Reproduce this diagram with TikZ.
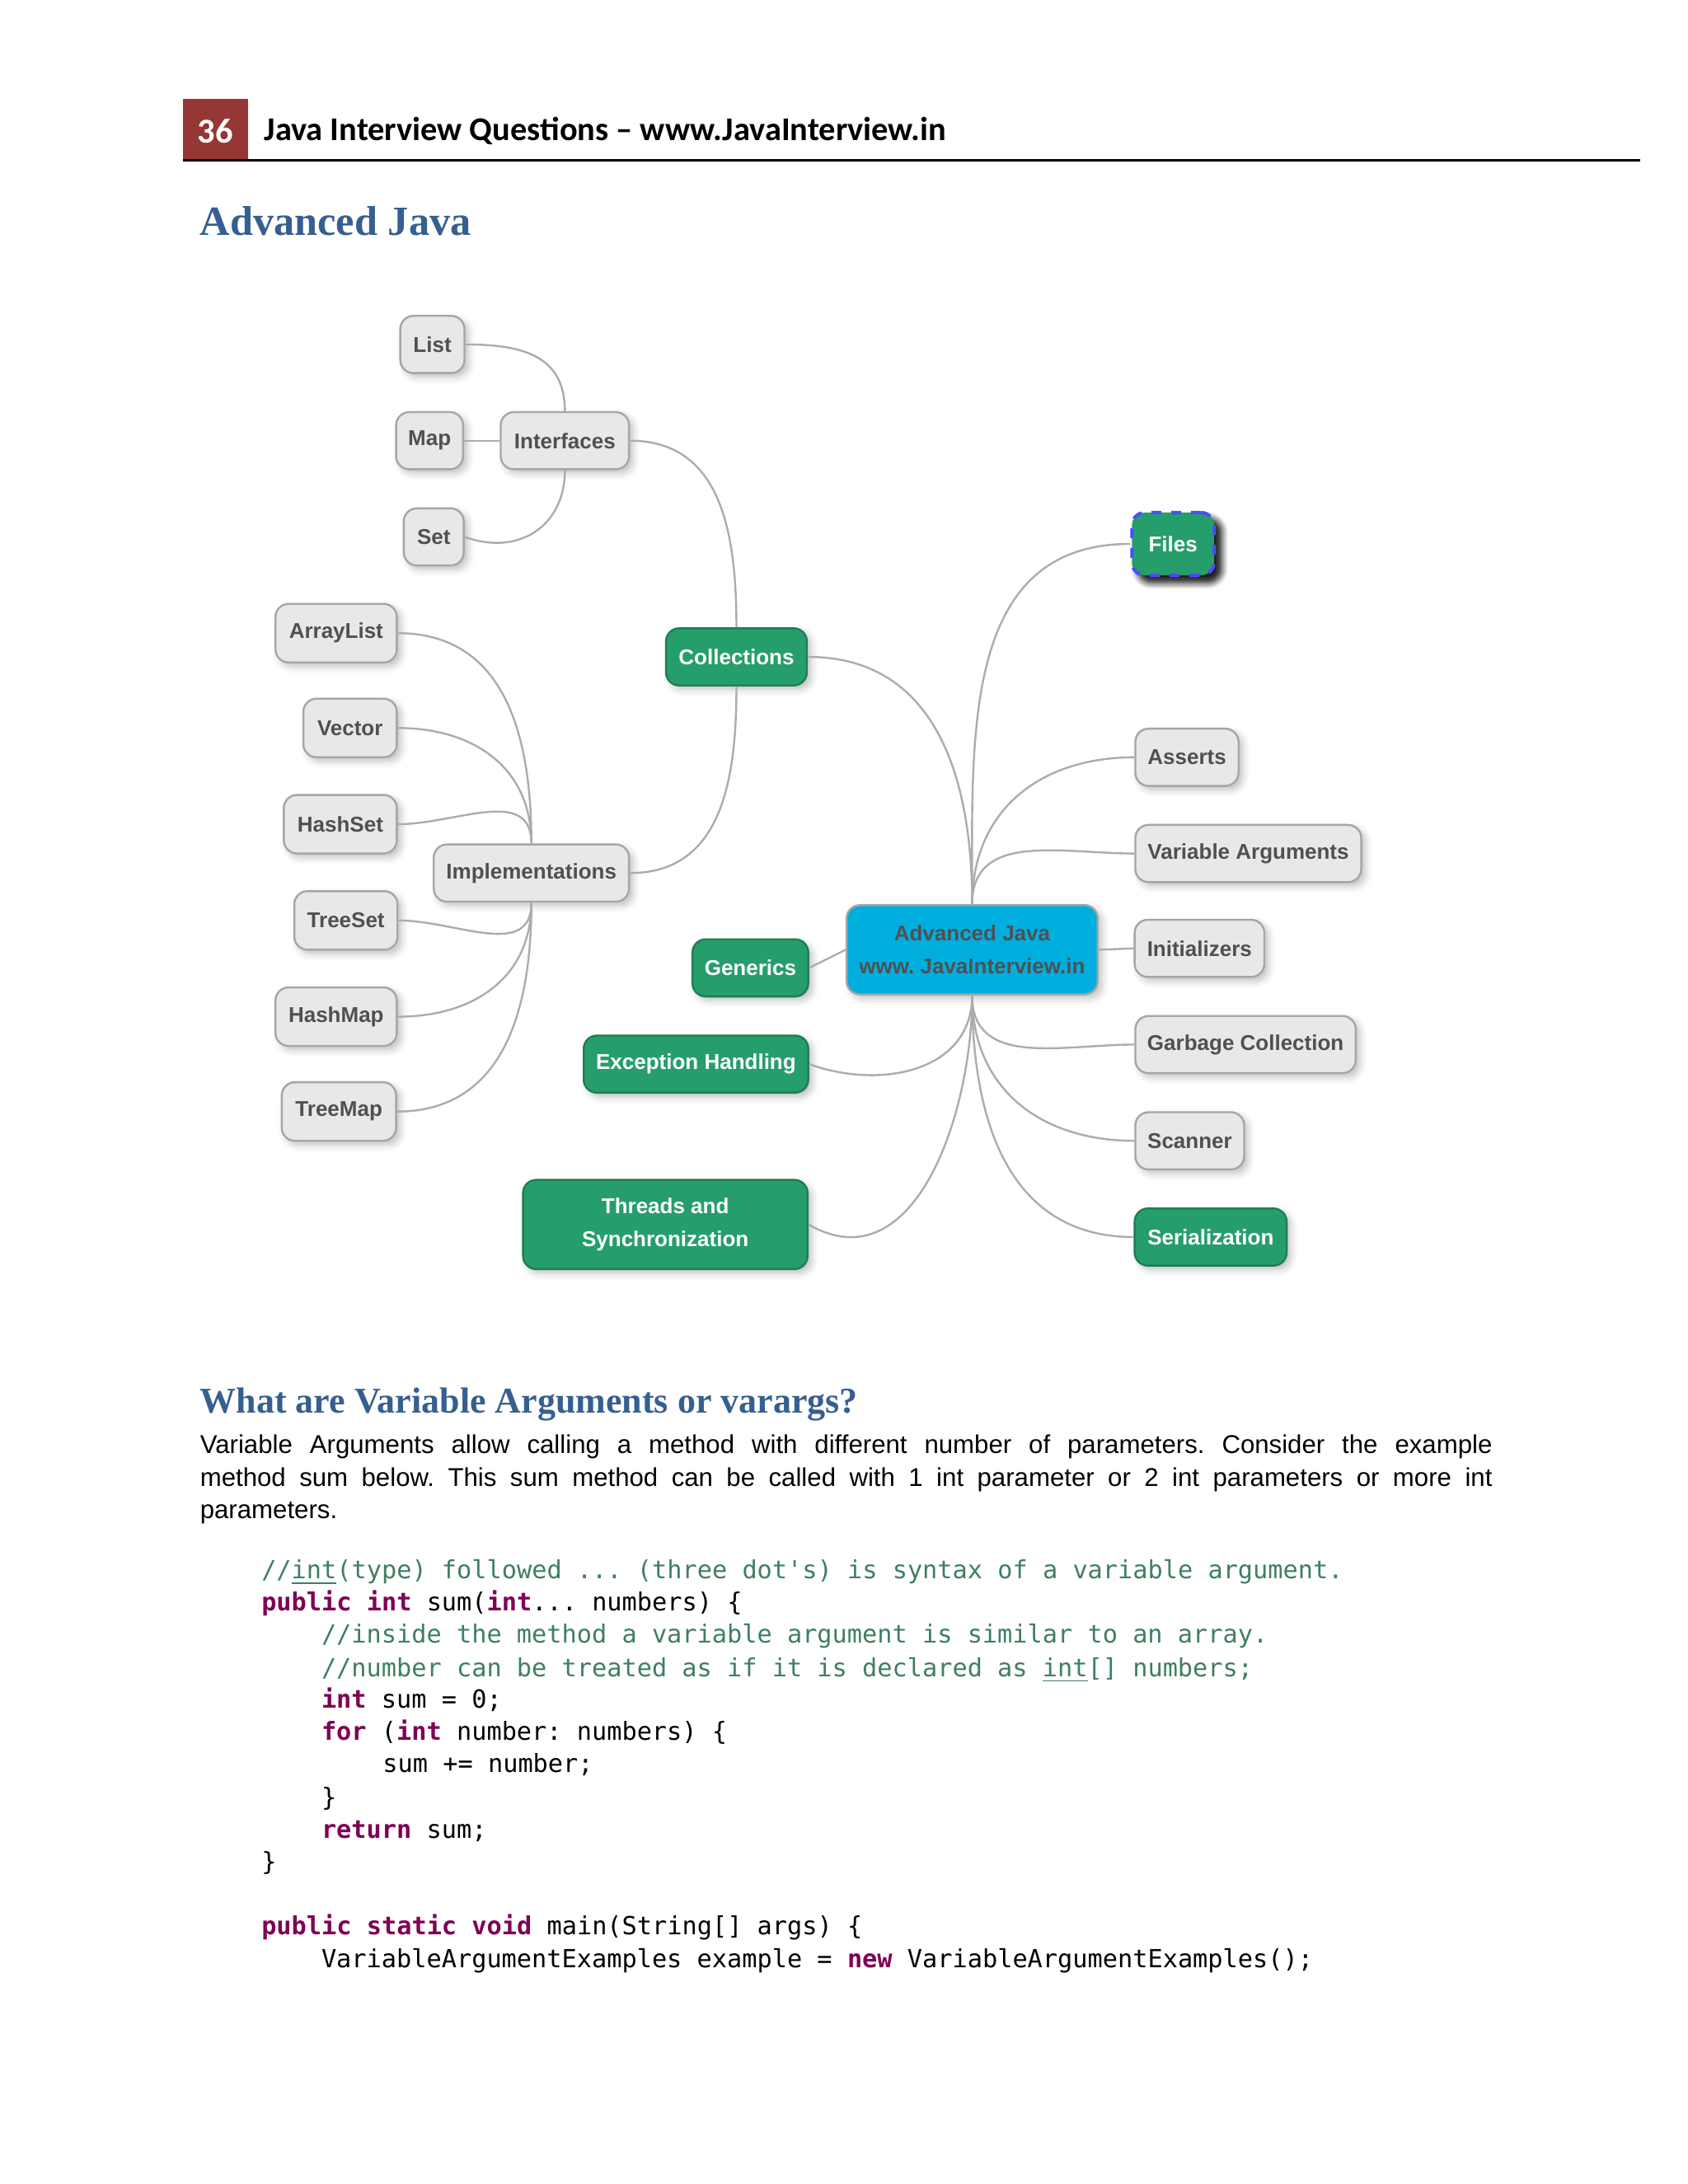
\documentclass[tikz,border=0pt]{standalone}
\usepackage{fontspec}
\setmainfont{Liberation Sans}
\newfontfamily\hdfont{Carlito}
\newfontfamily\serfont{Liberation Serif}
\newfontfamily\codefont{DejaVu Sans Mono}
\usetikzlibrary{shadows.blur}
\definecolor{gfill}{RGB}{38,158,108}
\definecolor{gtext}{RGB}{80,80,80}
\definecolor{cfill}{RGB}{0,174,222}
\definecolor{hblue}{RGB}{54,95,145}
\definecolor{hred}{RGB}{149,55,53}
\definecolor{ccom}{RGB}{63,127,95}
\definecolor{ckey}{RGB}{127,0,85}
\frenchspacing
\tikzset{
  base/.style={rounded corners=4pt, draw=gray!70, line width=0.6pt, inner sep=1pt,
    font=\fontsize{6.5}{8}\selectfont\bfseries, blur shadow={shadow xshift=1.2pt,shadow yshift=-1.2pt,shadow blur steps=4,shadow opacity=25}},
  gnode/.style={base, fill=gray!18, text=gtext},
  grn/.style={base, fill=gfill, text=white, draw=gfill!80!black},
  link/.style={draw=gray!65, line width=0.6pt},
  cl/.style={anchor=base west, inner sep=0pt, font=\codefont\fontsize{7.57}{9}\selectfont},
}
\newcommand{\kw}[1]{\textcolor{ckey}{\bfseries #1}}
\newcommand{\cm}[1]{\textcolor{ccom}{#1}}
\begin{document}
\begin{tikzpicture}[x=0.4231pt,y=-0.4231pt]
\useasboundingbox (0,0) rectangle (1210,1566);
% header
\fill[hred] (131,71) rectangle (178,115);
\node[text=white,font=\hdfont\bfseries\fontsize{10.6}{13}\selectfont] (pg) at (154.5,94) {36};
\node[anchor=base west,inner sep=0pt,font=\hdfont\bfseries\fontsize{10.1}{13}\selectfont] (ht) at (189,101) {Java Interview Questions – www.JavaInterview.in};
\draw[line width=0.8pt] (131,115) -- (1176,115);
\node[anchor=base west,inner sep=0pt,text=hblue,font=\serfont\bfseries\fontsize{12.6}{15}\selectfont] (h1) at (143,169) {Advanced Java};
% nodes
\newcommand{\nd}[6]{\node[#1, minimum width=#4*0.4231pt, minimum height=#5*0.4231pt] (#6) at (#2,#3)}
\nd{gnode}{310}{247}{46}{41}{list} {List};
\nd{gnode}{308}{316}{48}{41}{map} {Map};
\nd{gnode}{405}{316}{92}{41}{intf} {Interfaces};
\nd{gnode}{311}{385}{43}{41}{set} {Set};
\nd{grn}{528}{471}{101}{41}{coll} {Collections};
\nd{gnode}{241}{454}{87}{42}{al} {ArrayList};
\nd{gnode}{251}{522}{67}{42}{vec} {Vector};
\nd{gnode}{244}{591}{81}{42}{hs} {HashSet};
\nd{gnode}{381}{626}{140}{41}{impl} {Implementations};
\nd{gnode}{248}{660}{74}{42}{ts} {TreeSet};
\nd{gnode}{241}{729}{87}{42}{hm} {HashMap};
\nd{gnode}{243}{797}{82}{42}{tm} {TreeMap};
\nd{grn}{538}{694}{83}{41}{gen} {Generics};
\node[base, fill=cfill, text=gtext, draw=gray!70, align=center, minimum width=180*0.4231pt, minimum height=64*0.4231pt, font=\fontsize{6.5}{10}\selectfont\bfseries] (adv) at (697,681) {Advanced Java\\www. JavaInterview.in};
\nd{grn}{499}{763}{161}{41}{exc} {Exception Handling};
\node[grn, align=center, minimum width=204*0.4231pt, minimum height=64*0.4231pt, font=\fontsize{6.5}{10}\selectfont\bfseries] (thr) at (477,878) {Threads and\\Synchronization};
\node[grn, draw=blue!70, dashed, line width=1pt, minimum width=59*0.4231pt, minimum height=45*0.4231pt, blur shadow={shadow xshift=2pt,shadow yshift=-2pt,shadow opacity=70}] (files) at (841,390) {Files};
\nd{gnode}{851}{543}{74}{41}{ass} {Asserts};
\nd{gnode}{895}{612}{162}{41}{va} {Variable Arguments};
\nd{gnode}{860}{680}{93}{41}{ini} {Initializers};
\nd{gnode}{893}{749}{158}{41}{gc} {Garbage Collection};
\nd{gnode}{853}{818}{78}{41}{sc} {Scanner};
\nd{grn}{868}{887}{109}{41}{ser} {Serialization};
% links
\draw[link] (list.east) to[out=0,in=90,looseness=1.2] (intf.north);
\draw[link] (set.east) to[out=-20,in=-90,looseness=1.2] (intf.south);
\draw[link] (map.east) -- (intf.west);
\draw[link] (intf.east) to[out=0,in=90,looseness=1.1] (coll.north);
\draw[link] (impl.east) to[out=0,in=-90,looseness=1.1] (coll.south);
\draw[link] (al.east) to[out=0,in=90,looseness=1.1] (impl.north);
\draw[link] (vec.east) to[out=0,in=90,looseness=1.1] (impl.north);
\draw[link] (hs.east) to[out=0,in=90,looseness=1.1] (impl.north);
\draw[link] (ts.east) to[out=0,in=-90,looseness=1.1] (impl.south);
\draw[link] (hm.east) to[out=0,in=-90,looseness=1.1] (impl.south);
\draw[link] (tm.east) to[out=0,in=-90,looseness=1.1] (impl.south);
\draw[link] (coll.east) to[out=0,in=90,looseness=1.1] (adv.north);
\draw[link] (gen.east) -- (adv.west);
\draw[link] (exc.east) to[out=-20,in=-90,looseness=1.1] (adv.south);
\draw[link] (thr.east) to[out=-30,in=-90,looseness=1.1] (adv.south);
\draw[link] (files.west) to[out=180,in=90,looseness=1.1] (adv.north);
\draw[link] (ass.west) to[out=180,in=90,looseness=1.1] (adv.north);
\draw[link] (va.west) to[out=180,in=90,looseness=1.1] (adv.north);
\draw[link] (ini.west) -- (adv.east);
\draw[link] (gc.west) to[out=180,in=-90,looseness=1.1] (adv.south);
\draw[link] (sc.west) to[out=180,in=-90,looseness=1.1] (adv.south);
\draw[link] (ser.west) to[out=180,in=-90,looseness=1.1] (adv.south);
% text
\node[anchor=base west,inner sep=0pt,text=hblue,font=\serfont\bfseries\fontsize{11}{13}\selectfont] (h2) at (143,1013) {What are Variable Arguments or varargs?};
\begin{scope}[every node/.style={anchor=base west,inner sep=0pt,font=\fontsize{7.8}{9}\selectfont}]
\node (p1) at (143,1042) {\hbox to 392pt{Variable Arguments allow calling a method with different number of parameters. Consider the example}};
\node (p2) at (143,1066) {\hbox to 392pt{method sum below. This sum method can be called with 1 int parameter or 2 int parameters or more int}};
\node (p3) at (143,1089) {parameters.};
\end{scope}
\node[cl] (c1) at (187,1132) {\cm{//\underline{int}(type) followed ... (three dot's) is syntax of a variable argument.}};
\node[cl] (c2) at (187,1155) {\kw{public} \kw{int} sum(\kw{int}... numbers) \{};
\node[cl] (c3) at (230,1178) {\cm{//inside the method a variable argument is similar to an array.}};
\node[cl] (c4) at (230,1202) {\cm{//number can be treated as if it is declared as \underline{int}[] numbers;}};
\node[cl] (c5) at (230,1225) {\kw{int} sum = 0;};
\node[cl] (c6) at (230,1248) {\kw{for} (\kw{int} number: numbers) \{};
\node[cl] (c7) at (274,1271) {sum += number;};
\node[cl] (c8) at (230,1295) {\}};
\node[cl] (c9) at (230,1318) {\kw{return} sum;};
\node[cl] (c10) at (187,1341) {\}};
\node[cl] (c11) at (187,1387) {\kw{public} \kw{static} \kw{void} main(String[] args) \{};
\node[cl] (c12) at (230,1411) {VariableArgumentExamples example = \kw{new} VariableArgumentExamples();};
\end{tikzpicture}
\end{document}
